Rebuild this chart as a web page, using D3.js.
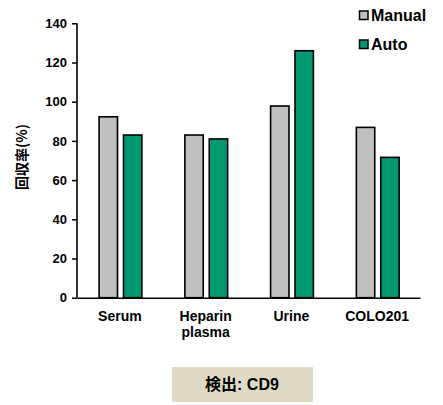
<!DOCTYPE html>
<html><head><meta charset="utf-8">
<script src="https://cdn.jsdelivr.net/npm/d3@7"></script>
<style>body{margin:0;background:#fff;} text{font-family:Arial,"Liberation Sans","Noto Sans CJK JP",sans-serif;}</style>
</head><body>
<svg id="c" width="443" height="405"></svg>
<script>
const categories = [["Serum"], ["Heparin", "plasma"], ["Urine"], ["COLO201"]];
const categoryKeys = ["Serum", "Heparin plasma", "Urine", "COLO201"];
const seriesNames = ["Manual", "Auto"];
const manualValues = [92.3, 83, 97.8, 86.9];
const autoValues = [83, 81, 126, 71.6];
const yTicks = [0, 20, 40, 60, 80, 100, 120, 140];
const colors = ["#c0c0c0", "#009870"];
const yLabel = "回収率(%)";
const noteText = "検出: CD9";

const svg = d3.select("#c");
const x = d3.scaleBand().domain(categoryKeys).range([77, 420]).padding(0);
const y = d3.scaleLinear().domain([0, 140]).range([297.7, 23.3]);
const inner = d3.scaleBand().domain(seriesNames).range([22.1, 64.9]).paddingInner(0.246).paddingOuter(0);

const data = categoryKeys.map((k, i) => ({k, vals: [manualValues[i], autoValues[i]]}));
const g = svg.append("g");
data.forEach(d => {
  seriesNames.forEach((s, j) => {
    g.append("rect")
      .attr("x", x(d.k) + inner(s))
      .attr("y", y(d.vals[j]))
      .attr("width", inner.bandwidth())
      .attr("height", y(0) - y(d.vals[j]))
      .attr("fill", colors[j])
      .attr("stroke", "#000")
      .attr("stroke-width", 1.6);
  });
});

// y axis
const yAxis = d3.axisLeft(y).tickValues(yTicks).tickSize(5).tickPadding(5);
const ya = svg.append("g").attr("transform", "translate(77,0)").call(yAxis);
ya.select(".domain").attr("stroke", "#000").attr("stroke-width", 1.6).attr("d", `M0,${y(140)}V${y(0)}`);
ya.selectAll(".tick line").attr("stroke", "#000").attr("stroke-width", 1.5);
ya.selectAll(".tick text").attr("font-size", 13).attr("font-weight", "bold").attr("fill", "#000")
  .style("font-family", "Arial, 'Liberation Sans', sans-serif");

// x axis
const xAxis = d3.axisBottom(x).tickSize(0).tickFormat(() => "");
const xa = svg.append("g").attr("transform", `translate(0,${y(0)})`).call(xAxis);
xa.select(".domain").attr("stroke", "#000").attr("stroke-width", 1.6);
categoryKeys.forEach((k, i) => {
  const t = svg.append("text").attr("x", x(k) + x.bandwidth() / 2).attr("y", 320.5)
    .attr("text-anchor", "middle").attr("font-size", 14).attr("font-weight", "bold");
  categories[i].forEach((line, li) => {
    t.append("tspan").attr("x", x(k) + x.bandwidth() / 2).attr("dy", li === 0 ? 0 : 16).text(line);
  });
});

// y label
svg.append("text").attr("transform", "translate(27,157) rotate(-90)")
  .attr("text-anchor", "middle").attr("font-size", 14).attr("font-weight", "bold")
  .style("font-family", "'Noto Sans CJK JP', sans-serif").text(yLabel);

// legend
seriesNames.forEach((s, j) => {
  const ly = 11 + j * 29;
  svg.append("rect").attr("x", 359.5).attr("y", ly).attr("width", 8.5).attr("height", 8.5)
    .attr("fill", colors[j]).attr("stroke", "#000").attr("stroke-width", 1.5);
  svg.append("text").attr("x", 371).attr("y", ly + 10).attr("font-size", 16).attr("font-weight", "bold").text(s);
});

// note box
svg.append("rect").attr("x", 172).attr("y", 367).attr("width", 141).attr("height", 35).attr("fill", "#dedac4");
svg.append("text").attr("x", 242).attr("y", 390).attr("text-anchor", "middle").attr("font-size", 16)
  .attr("font-weight", "bold").text(noteText);
</script>
</body></html>
